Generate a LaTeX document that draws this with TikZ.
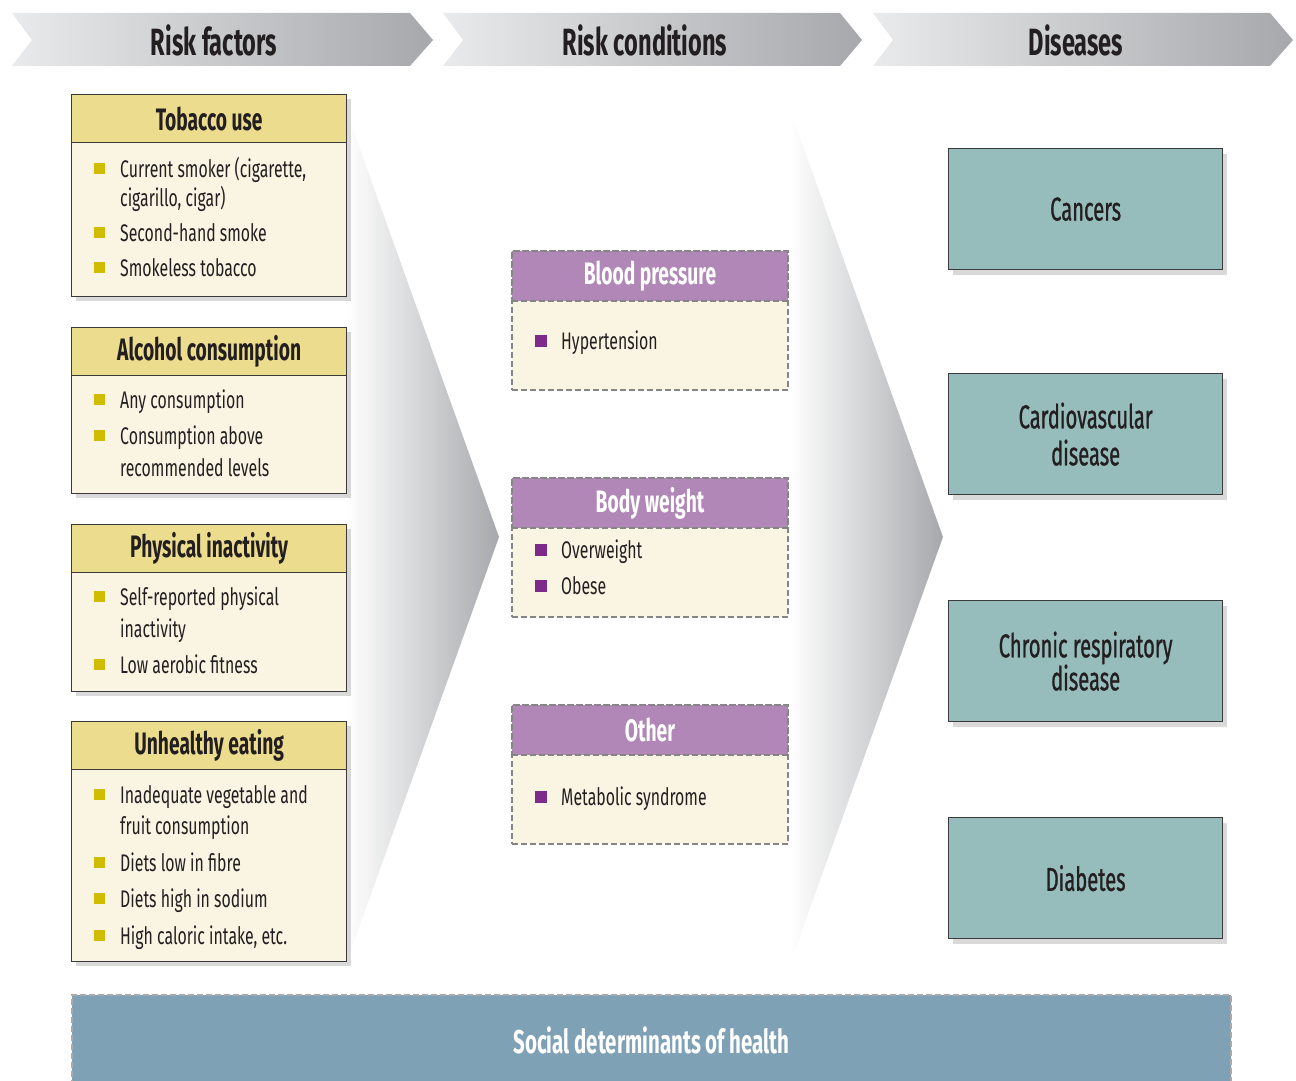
\documentclass[tikz,border=0pt]{standalone}
\usepackage{fontspec}
\setmainfont[FakeStretch=0.66]{Fira Sans}
\newfontfamily\hdfont[FakeStretch=0.62]{Fira Sans}
\newfontfamily\mdfont[FakeStretch=0.61,FakeBold=0.8]{Fira Sans}
\usetikzlibrary{shadows}
\definecolor{bordc}{HTML}{3A3A3A}
\definecolor{creamc}{HTML}{FAF4E3}
\definecolor{yelhc}{HTML}{ECDC8E}
\definecolor{yelbc}{HTML}{CFBC00}
\definecolor{purc}{HTML}{B087B6}
\definecolor{purbc}{HTML}{7D2A8A}
\definecolor{tealc}{HTML}{96BCBB}
\definecolor{sdhc}{HTML}{7FA1B6}
\definecolor{dashc}{HTML}{858585}
\definecolor{txtc}{HTML}{231F20}
\definecolor{hdrL}{HTML}{E9EAEB}
\definecolor{hdrR}{HTML}{A6A8AB}
\begin{document}
\begin{tikzpicture}[x=1pt,y=-1pt,
  chev/.style={shading=axis,left color=hdrL,right color=hdrR},
  chevtxt/.style={font=\hdfont\bfseries\fontsize{38}{38}\selectfont,text=txtc,inner sep=0},
  bigtri/.style={shading=axis,left color=white,right color=hdrR},
  rfbody/.style={draw=bordc,line width=1.3pt,fill=creamc,minimum width=275,anchor=north west,inner sep=0,
    drop shadow={opacity=0.3,shadow xshift=4pt,shadow yshift=-4pt}},
  rfhead/.style={draw=bordc,line width=1.3pt,fill=yelhc,minimum width=275,minimum height=48,anchor=north west,inner sep=0,
    font=\hdfont\bfseries\fontsize{31}{31}\selectfont,text=txtc},
  itm/.style={anchor=base west,inner sep=0,font=\fontsize{24}{24}\selectfont,text=txtc},
  ybul/.style={fill=yelbc,minimum size=11,inner sep=0},
  pbul/.style={fill=purbc,minimum size=12,inner sep=0},
  rcbody/.style={draw=dashc,dash pattern=on 6pt off 3pt,line width=2pt,fill=creamc,minimum width=276,minimum height=139,anchor=north west,inner sep=0},
  rchead/.style={draw=dashc,dash pattern=on 6pt off 3pt,line width=2pt,fill=purc,minimum width=276,minimum height=50,anchor=north west,inner sep=0,
    font=\hdfont\bfseries\fontsize{31}{31}\selectfont,text=white},
  dis/.style={draw=bordc,line width=1.3pt,fill=tealc,minimum width=274,minimum height=121,anchor=north west,inner sep=0,align=center,
    font=\mdfont\fontsize{33}{37}\selectfont,text=txtc,drop shadow={opacity=0.3,shadow xshift=4pt,shadow yshift=-5pt}},
  sdhbox/.style={draw=dashc!70,dash pattern=on 6pt off 3pt,line width=2pt,fill=sdhc,minimum width=1159,minimum height=90,anchor=north west,inner sep=0,
    font=\hdfont\bfseries\fontsize{33}{33}\selectfont,text=white}
]
\useasboundingbox (0,0) rectangle (1296,1081);
% header chevrons
\path[chev] (12,13) -- (410,13) -- (433,40) -- (410,66) -- (12,66) -- (32,40) -- cycle;
\path[chev] (443,13) -- (840,13) -- (862,40) -- (840,66) -- (443,66) -- (463,40) -- cycle;
\path[chev] (873,13) -- (1270,13) -- (1293,40) -- (1270,66) -- (873,66) -- (893,40) -- cycle;
\node[chevtxt] (h1) at (214,40) {Risk factors};
\node[chevtxt] (h2) at (645,40) {Risk conditions};
\node[chevtxt] (h3) at (1076,40) {Diseases};
% big flow triangles
\path[bigtri] (346,110) -- (499,537) -- (346,964) -- cycle;
\path[bigtri] (790,110) -- (943,537) -- (790,964) -- cycle;
% Tobacco
\node[rfbody,minimum height=202] (tobB) at (71,94) {};
\node[rfhead] (tobH) at (71,94) {Tobacco use};
\node[ybul] (tb1) at (99,168) {};
\node[itm] (tt1) at (120,177) {Current smoker (cigarette,};
\node[itm] (tt1b) at (120,206) {cigarillo, cigar)};
\node[ybul] (tb2) at (99,232) {};
\node[itm] (tt2) at (120,241) {Second-hand smoke};
\node[ybul] (tb3) at (99,267) {};
\node[itm] (tt3) at (120,276) {Smokeless tobacco};
% Alcohol
\node[rfbody,minimum height=166] (alcB) at (71,327) {};
\node[rfhead] (alcH) at (71,327) {Alcohol consumption};
\node[ybul] (ab1) at (99,399) {};
\node[itm] (at1) at (120,408) {Any consumption};
\node[ybul] (ab2) at (99,435) {};
\node[itm] (at2) at (120,444) {Consumption above};
\node[itm] (at2b) at (120,476) {recommended levels};
% Physical
\node[rfbody,minimum height=167] (phyB) at (71,524) {};
\node[rfhead] (phyH) at (71,524) {Physical inactivity};
\node[ybul] (pb1) at (99,596) {};
\node[itm] (pt1) at (120,605) {Self-reported physical};
\node[itm] (pt1b) at (120,637) {inactivity};
\node[ybul] (pb2) at (99,664) {};
\node[itm] (pt2) at (120,673) {Low aerobic fitness};
% Unhealthy eating
\node[rfbody,minimum height=240] (uneB) at (71,721) {};
\node[rfhead] (uneH) at (71,721) {Unhealthy eating};
\node[ybul] (ub1) at (99,794) {};
\node[itm] (ut1) at (120,803) {Inadequate vegetable and};
\node[itm] (ut1b) at (120,834) {fruit consumption};
\node[ybul] (ub2) at (99,862) {};
\node[itm] (ut2) at (120,871) {Diets low in fibre};
\node[ybul] (ub3) at (99,898) {};
\node[itm] (ut3) at (120,907) {Diets high in sodium};
\node[ybul] (ub4) at (99,935) {};
\node[itm] (ut4) at (120,944) {High caloric intake, etc.};
% Risk conditions
\node[rcbody] (bpB) at (511,250) {};
\node[rchead] (bpH) at (511,250) {Blood pressure};
\node[pbul] (bpb1) at (541,341) {};
\node[itm] (bpt1) at (561,349) {Hypertension};
\node[rcbody] (bwB) at (511,477) {};
\node[rchead] (bwH) at (511,477) {Body weight};
\node[pbul] (bwb1) at (541,550) {};
\node[itm] (bwt1) at (561,558) {Overweight};
\node[pbul] (bwb2) at (541,586) {};
\node[itm] (bwt2) at (561,594) {Obese};
\node[rcbody] (otB) at (511,704) {};
\node[rchead] (otH) at (511,704) {Other};
\node[pbul] (otb1) at (541,797) {};
\node[itm] (ott1) at (561,805) {Metabolic syndrome};
% Diseases
\node[dis] (d1) at (948,148) {Cancers};
\node[dis] (d2) at (948,373) {Cardiovascular\\disease};
\node[dis,font=\mdfont\fontsize{33}{33}\selectfont] (d3) at (948,600) {Chronic respiratory\\disease};
\node[dis] (d4) at (948,817) {Diabetes};
% Social determinants
\node[sdhbox] (sdh) at (71,994) {Social determinants of health};
\end{tikzpicture}
\end{document}
